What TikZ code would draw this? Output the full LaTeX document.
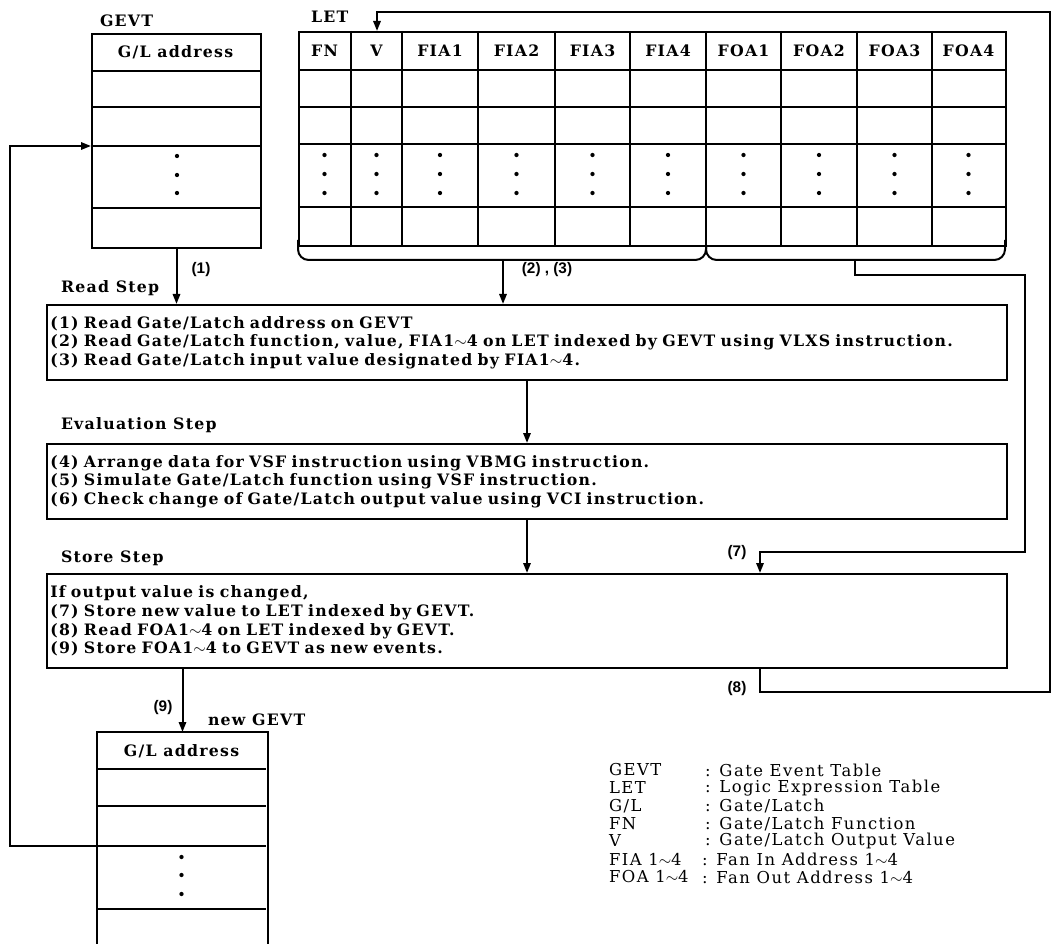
\documentclass[tikz,border=0pt]{standalone}
\usepackage{fontspec}
\setmainfont{DejaVu Serif}
\newfontfamily\bxfont[LetterSpace=8]{DejaVu Serif}
\newfontfamily\lgfont[LetterSpace=9]{DejaVu Serif}
\newfontfamily\nbfont{Liberation Sans}
\usetikzlibrary{arrows.meta}
\begin{document}
\begin{tikzpicture}[x=0.75pt,y=-0.75pt,
  line width=1.5pt, line join=miter,
  arr/.style={-{Triangle[length=7.5pt,width=5.5pt]}},
  bx/.style={font=\bxfont\bfseries\fontsize{11.8}{13.9}\selectfont},
  tbl/.style={draw, anchor=north west, inner sep=0pt},
  hdr/.style={bx, inner sep=0pt},
  stepbox/.style={draw, anchor=north west, align=left, inner xsep=2.5pt, inner ysep=0pt, bx, text width=715pt},
  steplbl/.style={bx, anchor=west, inner sep=0pt},
  lbl/.style={font=\nbfont\bfseries\fontsize{11.5}{12}\selectfont, inner sep=0pt},
  lg/.style={font=\lgfont\fontsize{12.3}{13}\selectfont, anchor=west, inner sep=0pt}
]
\useasboundingbox (0,0) rectangle (1055,944);

% ---------- GEVT ----------
\node[steplbl] (gevtlbl) at (99,21) {GEVT};
\node[tbl, minimum width=169*0.75pt, minimum height=214*0.75pt] (gevt) at (91,33) {};
\foreach \y in {71,107,146,208} \draw (91,\y) -- (260,\y);
\node[hdr] (gevthdr) at (175.5,52) {G/L address};
\foreach \y in {156,175,193} \fill (177,\y) circle[radius=1.6pt];

% ---------- LET ----------
\node[steplbl] (letlbl) at (310,17) {LET};
\node[tbl, minimum width=707*0.75pt, minimum height=214*0.75pt] (let) at (298,31) {};
\foreach \x in {351,402,478,555,630,706,781,857,932} \draw (\x,31) -- (\x,245);
\foreach \y in {70,107,144,207} \draw (298,\y) -- (1005,\y);
\foreach \t/\x [count=\i] in {FN/324.5,V/376.5,FIA1/440,FIA2/516.5,FIA3/592.5,FIA4/668,FOA1/743.5,FOA2/819,FOA3/894.5,FOA4/968.5}{
  \node[hdr] (h\i) at (\x,50.5) {\t};
  \foreach \y in {155,174,193} \fill (\x,\y) circle[radius=1.6pt];
}
% braces
\draw[rounded corners=8pt] (298,240) -- (298,260) -- (706,260) -- (706,245);
\draw[rounded corners=8pt] (706,245) -- (706,260) -- (1005,260) -- (1005,240);
\coordinate (b1) at (503,260);
\coordinate (b2) at (855,260);

% ---------- Steps ----------
\node[steplbl] (readlbl) at (60,288) {Read Step};
\node[stepbox, minimum height=75*0.75pt] (read) at (46,304) {%
(1) Read Gate/Latch address on GEVT\\
(2) Read Gate/Latch function, value, FIA1$\sim$4 on LET indexed by GEVT using VLXS instruction.\\
(3) Read Gate/Latch input value designated by FIA1$\sim$4.};

\node[steplbl] (evallbl) at (60,425) {Evaluation Step};
\node[stepbox, minimum height=75*0.75pt] (eval) at (46,443) {%
(4) Arrange data for VSF instruction using VBMG instruction.\\
(5) Simulate Gate/Latch function using VSF instruction.\\
(6) Check change of Gate/Latch output value using VCI instruction.};

\node[steplbl] (storelbl) at (60,558) {Store Step};
\node[stepbox, minimum height=94*0.75pt] (store) at (46,573) {%
If output value is changed,\\
(7) Store new value to LET indexed by GEVT.\\
(8) Read FOA1$\sim$4 on LET indexed by GEVT.\\
(9) Store FOA1$\sim$4 to GEVT as new events.};

% ---------- new GEVT ----------
\node[anchor=north west, inner sep=0pt, minimum width=169*0.75pt, minimum height=212*0.75pt] (ngevt) at (97,732) {};
\draw (ngevt.south west) -- (ngevt.north west) -- (ngevt.north east) -- (ngevt.south east);
\foreach \y in {769,806,846,909} \draw (97,\y) -- (266,\y);
\node[hdr] (ngevthdr) at (181.5,751) {G/L address};
\foreach \y in {857,875,894} \fill (181.5,\y) circle[radius=1.6pt];
\node[steplbl] (ngevtlbl) at (207,720) {new GEVT};

% ---------- connectors ----------
\draw[arr] (gevt.south) -- (gevt.south |- read.north);
\node[lbl] (l1) at (201,270) {(1)};
\draw[arr] (b1) -- (read.north -| b1);
\node[lbl] (l23) at (547,270) {(2)\ ,\ (3)};
\draw[arr] (read.south) -- (eval.north);
\draw[arr] (eval.south) -- (store.north);

\coordinate (c7a) at (1025,275);
\coordinate (c7b) at (760,552);
\draw[arr] (b2) |- (c7a) |- (c7b) -- (store.north -| c7b);
\node[lbl] (l7) at (737,553) {(7)};

\coordinate (c8a) at (760,692);
\coordinate (c8b) at (1050,12);
\coordinate (c8c) at (377,12);
\draw[arr] (store.south -| c8a) -- (c8a) -| (c8b) -- (c8c) -- (let.north -| c8c);
\node[lbl] (l8) at (737,689) {(8)};

\draw[arr] (store.south -| ngevt.north) -- (ngevt.north);
\node[lbl] (l9) at (163,708) {(9)};

\coordinate (fbl) at (10,846);
\coordinate (fbt) at (10,146);
\draw[arr] (ngevt.west |- fbl) -- (fbl) -- (fbt) -- (gevt.west |- fbt);

% ---------- legend ----------
\node[lg] (la1) at (608,770) {GEVT};
\node[lg] (lb1) at (704,770) {: Gate Event Table};
\node[lg] (la2) at (608,788) {LET};
\node[lg] (lb2) at (704,788) {: Logic Expression Table};
\node[lg] (la3) at (608,806) {G/L};
\node[lg] (lb3) at (704,806) {: Gate/Latch};
\node[lg] (la4) at (608,824) {FN};
\node[lg] (lb4) at (704,824) {: Gate/Latch Function};
\node[lg] (la5) at (608,841) {V};
\node[lg] (lb5) at (704,841) {: Gate/Latch Output Value};
\node[lg] (la6) at (608,859) {FIA 1$\sim$4};
\node[lg] (lb6) at (701,859) {: Fan In Address 1$\sim$4};
\node[lg] (la7) at (608,877) {FOA 1$\sim$4};
\node[lg] (lb7) at (701,877) {: Fan Out Address 1$\sim$4};
\end{tikzpicture}
\end{document}
